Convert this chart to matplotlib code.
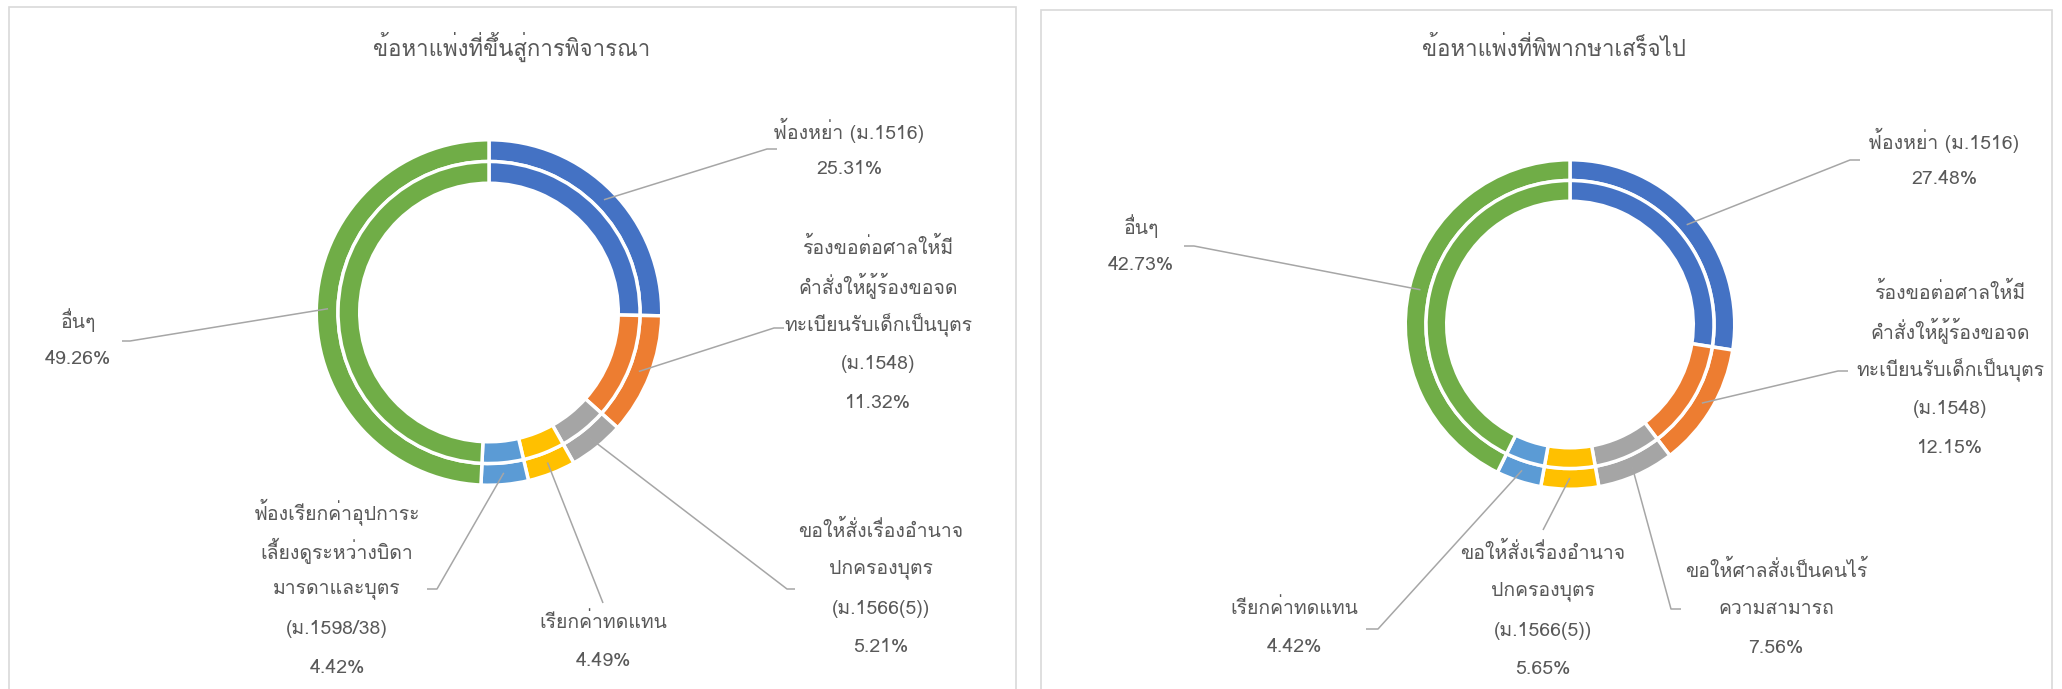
import matplotlib
matplotlib.use("Agg")
import numpy as np
import matplotlib.pyplot as plt
from matplotlib import font_manager
from matplotlib.patches import Rectangle

# --- data -------------------------------------------------------------
left_title = "ข้อหาแพ่งที่ขึ้นสู่การพิจารณา"
left_names = ["ฟ้องหย่า (ม.1516)",
              "ร้องขอต่อศาลให้มี\nคำสั่งให้ผู้ร้องขอจด\nทะเบียนรับเด็กเป็นบุตร\n(ม.1548)",
              "ขอให้สั่งเรื่องอำนาจ\nปกครองบุตร\n(ม.1566(5))",
              "เรียกค่าทดแทน",
              "ฟ้องเรียกค่าอุปการะ\nเลี้ยงดูระหว่างบิดา\nมารดาและบุตร\n(ม.1598/38)",
              "อื่นๆ"]
left_values = [25.31, 11.32, 5.21, 4.49, 4.42, 49.26]

right_title = "ข้อหาแพ่งที่พิพากษาเสร็จไป"
right_names = ["ฟ้องหย่า (ม.1516)",
               "ร้องขอต่อศาลให้มี\nคำสั่งให้ผู้ร้องขอจด\nทะเบียนรับเด็กเป็นบุตร\n(ม.1548)",
               "ขอให้ศาลสั่งเป็นคนไร้\nความสามารถ",
               "ขอให้สั่งเรื่องอำนาจ\nปกครองบุตร\n(ม.1566(5))",
               "เรียกค่าทดแทน",
               "อื่นๆ"]
right_values = [27.48, 12.15, 7.56, 5.65, 4.42, 42.73]

colors = ["#4472C4", "#ED7D31", "#A5A5A5", "#FFC000", "#5B9BD5", "#70AD47"]

# --- font: Loma stacks Thai tone marks without shaping ----------------
have = {f.name for f in font_manager.fontManager.ttflist}
thai = [n for n in ["Loma", "Noto Sans Thai UI", "Noto Sans Thai", "Sarabun"] if n in have]
plt.rcParams["font.family"] = thai[:1] + ["DejaVu Sans"]

TXT = "#595959"
W, H = 2062, 689
Y = lambda y: H - y   # layout measured top-down in pixels

fig = plt.figure(figsize=[20.62, 6.89], dpi=100)
ax = fig.add_axes([0, 0, 1, 1])

# panel frames
ax.add_patch(Rectangle((9, -10), 1007, Y(7) + 10, fill=False, edgecolor="#D9D9D9", linewidth=1.2))
ax.add_patch(Rectangle((1041, -10), 1011, Y(10) + 10, fill=False, edgecolor="#D9D9D9", linewidth=1.2))


def donut(vals, names, title, center, r_out, r_split, r_in, title_xy, label_xy, leaders):
    cx, cy = center[0], Y(center[1])
    lw = 2.5
    pad = lw / 72 * 100 / 2
    wp_o = dict(width=r_out + pad - r_split, edgecolor="white", linewidth=lw)
    wp_i = dict(width=r_split - (r_in - pad), edgecolor="white", linewidth=lw)
    ax.pie(vals, colors=colors, radius=r_out + pad, center=(cx, cy), startangle=90,
           counterclock=False, wedgeprops=wp_o)
    ax.pie(vals, colors=colors, radius=r_split, center=(cx, cy), startangle=90,
           counterclock=False, wedgeprops=wp_i)

    ax.text(title_xy[0], Y(title_xy[1]), title, ha="center", va="center",
            fontsize=16, color=TXT)

    total = sum(vals)
    cum = np.cumsum([0] + vals[:-1])
    r_mid = (r_out + r_split) / 2
    pitch = 39
    for v, c, name, (lx, ly), lead in zip(vals, cum, names, label_xy, leaders):
        ang = np.deg2rad(90 - 360 * (c + v / 2) / total)
        sx, sy = cx + r_mid * np.cos(ang), cy + r_mid * np.sin(ang)
        pts_x = [sx] + [p[0] for p in lead]
        pts_y = [sy] + [Y(p[1]) for p in lead]
        ax.plot(pts_x, pts_y, color="#A6A6A6", linewidth=1.1, solid_capstyle="butt")

        lines = name.split("\n") + [f"{v:.2f}%"]
        n = len(lines)
        for i, s in enumerate(lines):
            yy = ly - (n - 1) / 2 * pitch + i * pitch
            ax.text(lx, Y(yy), s, ha="center", va="center", fontsize=14, color=TXT)


donut(left_values, left_names, left_title, (489, 312.5), 171, 151, 131, (512, 47),
      [(849, 150), (878, 325), (881, 589), (603, 642), (337, 590), (78, 340)],
      [[(767, 149), (777, 149)], [(774, 328), (784, 328)], [(787, 589), (795, 589)],
       [(603, 603)], [(437, 589), (427, 589)], [(130, 341), (122, 341)]])

donut(right_values, right_names, right_title, (1570, 324.5), 163, 144, 125, (1554, 49),
      [(1944, 160), (1950, 370), (1776, 609), (1543, 611), (1294, 628), (1141, 246)],
      [[(1850, 160), (1860, 160)], [(1838, 371), (1848, 371)], [(1671, 609), (1681, 609)],
       [(1543, 530)], [(1378, 629), (1366, 629)], [(1194, 246), (1184, 246)]])

ax.set_xlim(0, W)
ax.set_ylim(0, H)
ax.set_aspect("equal")
ax.axis("off")
fig.savefig("out.png", dpi=100)
